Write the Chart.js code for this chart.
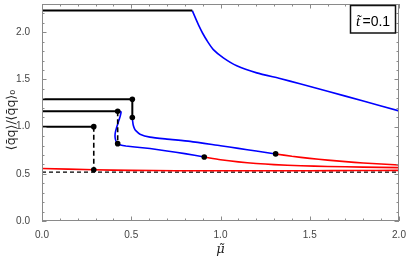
<!DOCTYPE html>
<html>
<head>
<meta charset="utf-8">
<script src="https://cdn.jsdelivr.net/npm/chart.js@4.4.0/dist/chart.umd.min.js"></script>
<style>
  html, body { margin: 0; padding: 0; background: #fff; }
</style>
</head>
<body>
<canvas id="chart" width="407" height="261"></canvas>
<script>
// --- Data ---
// top branch (black plateau, then blue)
const topBlackX = [0, 0.842];
const topBlackY = [2.23, 2.23];
const topBlueX = [0.842, 0.86, 0.88, 0.9, 0.925, 0.96, 1.016, 1.091, 1.203, 1.333, 1.445, 1.6, 1.8, 2.0];
const topBlueY = [2.23, 2.15, 2.065, 1.99, 1.91, 1.816, 1.729, 1.645, 1.57, 1.51, 1.455, 1.376, 1.271, 1.167];

// second branch (plateau at 1.29)
const b2BlackX = [0, 0.506, 0.506];
const b2BlackY = [1.29, 1.29, 1.097];
const b2BlueX = [0.506, 0.508, 0.511, 0.518, 0.527, 0.549, 0.605, 0.7, 0.83, 1.0, 1.1, 1.2, 1.309];
const b2BlueY = [1.097, 1.055, 1.017, 0.98, 0.955, 0.92, 0.889, 0.868, 0.844, 0.797, 0.77, 0.742, 0.711];
const b2RedX = [1.309, 1.4, 1.5, 1.6, 1.7, 1.8, 1.9, 2.0];
const b2RedY = [0.711, 0.686, 0.664, 0.645, 0.629, 0.615, 0.604, 0.594];

// third branch (plateau at 1.163)
const b3BlackX = [0, 0.424];
const b3BlackY = [1.163, 1.163];
const b3DashX = [0.424, 0.424];
const b3DashY = [1.163, 0.82];
const b3BlueX = [0.424, 0.436, 0.443, 0.438, 0.428, 0.418, 0.411, 0.409, 0.412, 0.422, 0.44, 0.47, 0.52, 0.605, 0.7, 0.8, 0.909];
const b3BlueY = [1.163, 1.162, 1.155, 1.11, 1.05, 0.99, 0.94, 0.9, 0.86, 0.82, 0.805, 0.795, 0.785, 0.768, 0.742, 0.714, 0.678];
const b3RedX = [0.909, 1.0, 1.1, 1.2, 1.3, 1.45, 1.6, 1.8, 2.0];
const b3RedY = [0.678, 0.65, 0.627, 0.61, 0.598, 0.586, 0.578, 0.571, 0.566];

// fourth branch (plateau at 1.0)
const b4BlackX = [0, 0.29];
const b4BlackY = [1.0, 1.0];
const b4DashX = [0.29, 0.29];
const b4DashY = [1.0, 0.543];
const lowRedX = [0, 0.29, 0.5, 0.75, 1.0, 1.25, 1.5, 1.75, 2.0];
const lowRedY = [0.556, 0.543, 0.537, 0.533, 0.532, 0.532, 0.533, 0.535, 0.537];

// dashed reference level
const refX = [0, 2];
const refY = [0.518, 0.518];

// transition points
const dotX = [0.506, 0.506, 0.424, 0.424, 0.29, 0.29, 0.909, 1.309];
const dotY = [1.29, 1.097, 1.163, 0.82, 1.0, 0.543, 0.678, 0.711];

const xTicks = [0, 0.5, 1.0, 1.5, 2.0];
const yTicks = [0, 0.5, 1.0, 1.5, 2.0];

// --- Helpers ---
const pts = (xs, ys) => xs.map((x, i) => ({ x, y: ys[i] }));

function line(xs, ys, color, width, dash, tension) {
    return {
        data: pts(xs, ys),
        showLine: true,
        borderColor: color,
        borderWidth: width,
        borderDash: dash || [],
        pointRadius: 0,
        tension: tension || 0,
        fill: false
    };
}

const BLUE = '#0000ff', RED = '#ff0000', BLACK = '#000000';

// frame with inward ticks, axis titles and the label box
const frameTicks = {
    id: 'frameTicks',
    afterDraw(chart) {
        const { ctx, chartArea: a, scales: { x, y } } = chart;
        ctx.save();
        ctx.strokeStyle = '#8a8a8a';
        ctx.lineWidth = 1;
        ctx.strokeRect(a.left + 0.5, a.top + 0.5, a.right - a.left - 1, a.bottom - a.top - 1);
        ctx.beginPath();
        for (let i = 0; i <= 20; i++) {
            const px = Math.round(x.getPixelForValue(i / 10)) + 0.5;
            const len = i % 5 === 0 ? 4.5 : 2.5;
            ctx.moveTo(px, a.bottom); ctx.lineTo(px, a.bottom - len);
            ctx.moveTo(px, a.top); ctx.lineTo(px, a.top + len);
        }
        for (let i = 0; i <= 23; i++) {
            const py = Math.round(y.getPixelForValue(i / 10)) + 0.5;
            const len = i % 5 === 0 ? 4.5 : 2.5;
            ctx.moveTo(a.left, py); ctx.lineTo(a.left + len, py);
            ctx.moveTo(a.right, py); ctx.lineTo(a.right - len, py);
        }
        ctx.stroke();

        // axis titles
        ctx.fillStyle = '#222';
        ctx.font = 'italic 13px "DejaVu Serif"';
        ctx.textAlign = 'center';
        ctx.textBaseline = 'alphabetic';
        ctx.fillText('\u03BC\u0303', (a.left + a.right) / 2, 253);

        ctx.save();
        ctx.translate(12, 120);
        ctx.rotate(-Math.PI / 2);
        ctx.font = '12.5px "DejaVu Sans"';
        ctx.textBaseline = 'middle';
        ctx.fillText('\u27E8q\u0304q\u27E9/\u27E8q\u0304q\u27E9\u2080', 0, 0);
        ctx.restore();

        // label box
        ctx.fillStyle = '#fff';
        ctx.fillRect(350, 5, 46, 28);
        ctx.strokeStyle = '#111';
        ctx.lineWidth = 1.5;
        ctx.strokeRect(350.5, 5.5, 45, 27.5);
        ctx.fillStyle = '#000';
        ctx.textAlign = 'left';
        ctx.textBaseline = 'alphabetic';
        ctx.font = 'italic 15px "Liberation Serif"';
        ctx.fillText('t\u0303', 356, 26);
        ctx.font = '14px "Liberation Sans"';
        ctx.fillText('=0.1', 362.5, 26);
        ctx.restore();
    }
};

new Chart(document.getElementById('chart'), {
    type: 'scatter',
    data: {
        datasets: [
            {
                data: pts(dotX, dotY),
                pointRadius: 2.8,
                pointBackgroundColor: BLACK,
                pointBorderWidth: 0,
                showLine: false
            },
            line(topBlackX, topBlackY, BLACK, 2),
            line(b2BlackX, b2BlackY, BLACK, 2),
            line(b3BlackX, b3BlackY, BLACK, 2),
            line(b4BlackX, b4BlackY, BLACK, 2),
            line(b3DashX, b3DashY, BLACK, 1.6, [5, 3]),
            line(b4DashX, b4DashY, BLACK, 1.6, [5, 3]),
            line(topBlueX, topBlueY, BLUE, 1.6, null, 0.2),
            line(b2BlueX, b2BlueY, BLUE, 1.6, null, 0.2),
            line(b3BlueX, b3BlueY, BLUE, 1.6, null, 0.1),
            line(b2RedX, b2RedY, RED, 1.6, null, 0.2),
            line(b3RedX, b3RedY, RED, 1.6, null, 0.2),
            line(lowRedX, lowRedY, RED, 1.6, null, 0.2),
            line(refX, refY, BLACK, 1.1, [4, 3])
        ]
    },
    options: {
        responsive: false,
        animation: false,
        layout: { padding: { left: 0, right: 8, top: 0, bottom: 0 } },
        plugins: { legend: { display: false }, tooltip: { enabled: false } },
        scales: {
            x: {
                type: 'linear', min: 0, max: 2,
                afterBuildTicks: s => { s.ticks = xTicks.map(v => ({ value: v })); },
                ticks: {
                    callback: v => v.toFixed(1),
                    color: '#444', font: { family: 'Liberation Sans', size: 10 }, padding: 0,
                    maxRotation: 0
                },
                grid: { display: false },
                border: { display: false },
                afterFit: s => { s.height = 40; s.paddingLeft = 0; s.paddingRight = 0; }
            },
            y: {
                type: 'linear', min: 0, max: 2.3,
                afterBuildTicks: s => { s.ticks = yTicks.map(v => ({ value: v })); },
                ticks: {
                    callback: v => v.toFixed(1),
                    color: '#444', font: { family: 'Liberation Sans', size: 10 }, padding: 4
                },
                grid: { display: false },
                border: { display: false },
                afterFit: s => { s.width = 42; s.paddingTop = 0; s.paddingBottom = 0; }
            }
        }
    },
    plugins: [frameTicks]
});
</script>
</body>
</html>
